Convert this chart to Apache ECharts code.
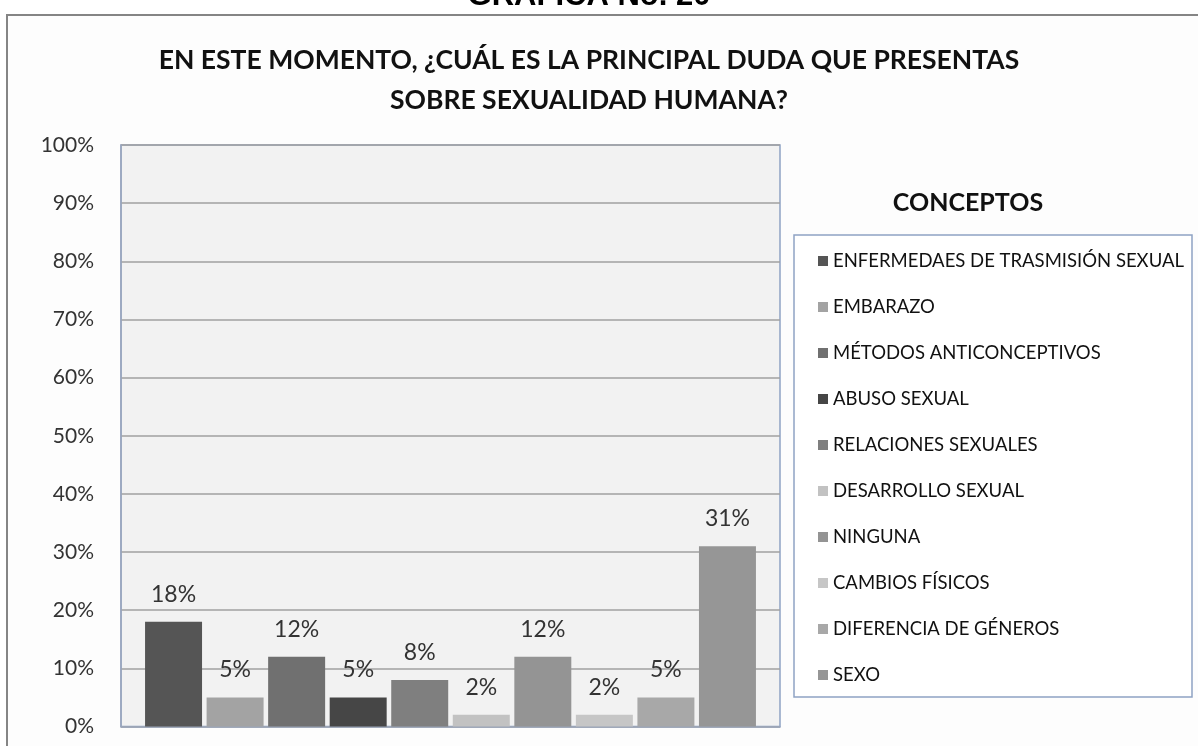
<!DOCTYPE html>
<html><head><meta charset="utf-8">
<script src="https://cdn.jsdelivr.net/npm/echarts@6/dist/echarts.min.js"></script>
<style>html,body{margin:0;padding:0;background:#fff}#c{width:1198px;height:746px}</style>
</head><body><div id="c"></div>
<script>
const categories = [
  'ENFERMEDAES DE TRASMISIÓN SEXUAL',
  'EMBARAZO',
  'MÉTODOS ANTICONCEPTIVOS',
  'ABUSO SEXUAL',
  'RELACIONES SEXUALES',
  'DESARROLLO SEXUAL',
  'NINGUNA',
  'CAMBIOS FÍSICOS',
  'DIFERENCIA DE GÉNEROS',
  'SEXO'
];
const values = [18, 5, 12, 5, 8, 2, 12, 2, 5, 31];
const colors = ['#555555','#a3a3a3','#707070','#464646','#7f7f7f','#c2c2c2','#949494','#c6c6c6','#a8a8a8','#969696'];
const headerText = 'GRAFICA No. 20';
const titleLines = ['EN ESTE MOMENTO, ¿CUÁL ES LA PRINCIPAL DUDA QUE PRESENTAS', 'SOBRE SEXUALIDAD HUMANA?'];
const legendTitle = 'CONCEPTOS';

const chart = echarts.init(document.getElementById('c'), null, {renderer: 'canvas'});
const series = categories.map((name, i) => ({
  name: name,
  type: 'bar',
  data: [values[i]],
  itemStyle: {color: colors[i]},
  barGap: '8%',
  barCategoryGap: '7.3%',
  label: {
    show: true, position: 'top', distance: 16,
    formatter: '{c}%',
    fontFamily: 'Lato', fontSize: 23, color: '#333'
  }
}));

chart.setOption({
  animation: false,
  backgroundColor: '#fff',
  graphic: [
    {type: 'rect', shape: {x: 7, y: 15, width: 1200, height: 740},
     style: {fill: '#fdfdfd', stroke: '#858585', lineWidth: 2}, z: -10},
    {type: 'text', x: 589, y: 12, style: {text: headerText, font: 'bold 31px "Liberation Sans"', fill: '#000', textAlign: 'center', textVerticalAlign: 'bottom'}},
    {type: 'text', x: 589, y: 60, style: {text: titleLines[0], font: 'bold 26.5px Lato', fill: '#111', textAlign: 'center', textVerticalAlign: 'middle'}},
    {type: 'text', x: 589, y: 100, style: {text: titleLines[1], font: 'bold 26.5px Lato', fill: '#111', textAlign: 'center', textVerticalAlign: 'middle'}},
    {type: 'text', x: 968, y: 203, style: {text: legendTitle, font: 'bold 25px Lato', fill: '#111', textAlign: 'center', textVerticalAlign: 'middle'}},
    {type: 'rect', shape: {x: 794, y: 235, width: 398, height: 462},
     style: {fill: '#fff', stroke: '#8fa3c4', lineWidth: 1.5}, z: 0}
  ],
  grid: {left: 121, top: 145, width: 659, height: 581.5, show: true,
         backgroundColor: '#f2f2f2', borderColor: '#8fa3c4', borderWidth: 1.5},
  legend: {
    data: categories, orient: 'vertical', left: 813, top: 246,
    itemWidth: 10, itemHeight: 10, itemGap: 26, icon: 'rect',
    textStyle: {fontFamily: 'Lato', fontSize: 18.5, color: '#111', lineHeight: 20},
    selectedMode: false
  },
  xAxis: {type: 'category', data: [''], axisLine: {lineStyle: {color: '#9aa6bc', width: 1.5}},
          axisTick: {show: false}, axisLabel: {show: false}},
  yAxis: {type: 'value', min: 0, max: 100, interval: 10,
          axisLine: {show: true, lineStyle: {color: '#9aa6bc', width: 1.5}},
          axisTick: {show: false},
          axisLabel: {formatter: '{value}%', fontFamily: 'Lato', fontSize: 21, color: '#333', margin: 27},
          splitLine: {lineStyle: {color: '#a0a0a0', width: 1.5}}},
  series: series
});
</script></body></html>
